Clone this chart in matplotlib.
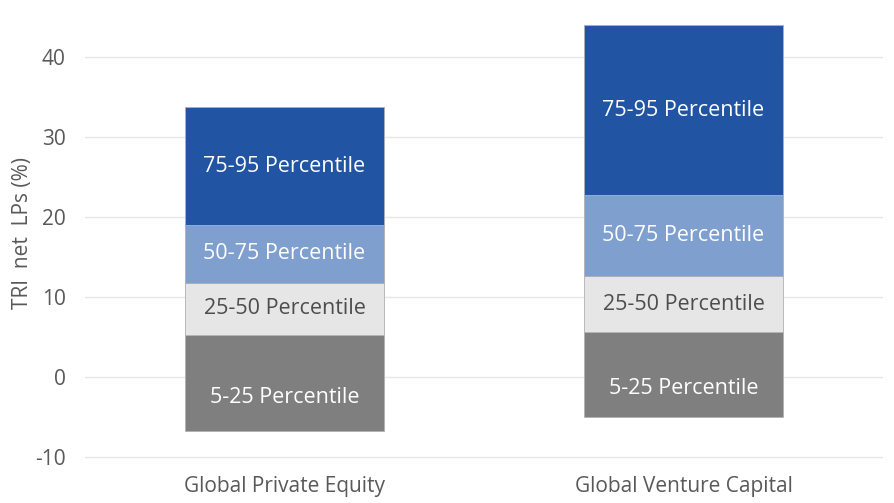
import matplotlib.pyplot as plt
import numpy as np

# Data: stacked percentile bands of net IRR to LPs (%)
categories = ['Global Private Equity', 'Global Venture Capital']
band_labels = ['5-25 Percentile', '25-50 Percentile', '50-75 Percentile', '75-95 Percentile']
p5 = [-6.7, -5.0]
p25 = [5.25, 5.6]
p50 = [11.8, 12.6]
p75 = [19.0, 22.7]
p95 = [33.75, 44.0]

colors = ['#7f7f7f', '#e6e6e6', '#7f9fce', '#2155a3']
text_colors = ['white', '#4d4d4d', 'white', 'white']

plt.rcParams['font.family'] = ['Open Sans', 'DejaVu Sans']
plt.rcParams['axes.unicode_minus'] = False

fig = plt.figure(figsize=(8.94, 5.03), dpi=100)
ax = fig.add_axes([85 / 894, 1 - 465 / 503, 798 / 894, 464 / 503])

x = np.arange(len(categories))
edges = [p5, p25, p50, p75, p95]
for i in range(4):
    lo = np.array(edges[i])
    hi = np.array(edges[i + 1])
    ax.bar(x, hi - lo, bottom=lo, width=0.5, color=colors[i],
           edgecolor='#b0b0b0', linewidth=0.6, zorder=2)
    for j in range(len(categories)):
        mid = (lo[j] + hi[j]) / 2
        if i == 0:
            mid -= 1.8  # bottom band label sits a bit lower
        ax.text(x[j], mid, band_labels[i], ha='center', va='center',
                fontsize=15.5, color=text_colors[i], zorder=3)

ax.set_xlim(-0.5, 1.5)
ax.set_ylim(-11, 47)
ax.set_yticks([-10, 0, 10, 20, 30, 40])
ax.set_xticks(x)
ax.set_xticklabels(categories)
ax.yaxis.grid(True, color='#e6e6e6', linewidth=1)
ax.set_axisbelow(True)
for s in ax.spines.values():
    s.set_visible(False)
ax.tick_params(axis='both', length=0, labelsize=15, labelcolor='#595959')
ax.tick_params(axis='y', pad=14)
ax.tick_params(axis='x', pad=8)
ax.set_ylabel('TRI  net  LPs (%)', fontsize=15, color='#595959')
ax.yaxis.set_label_coords(-52 / 798, 0.5)

fig.savefig('out.png', dpi=100)
